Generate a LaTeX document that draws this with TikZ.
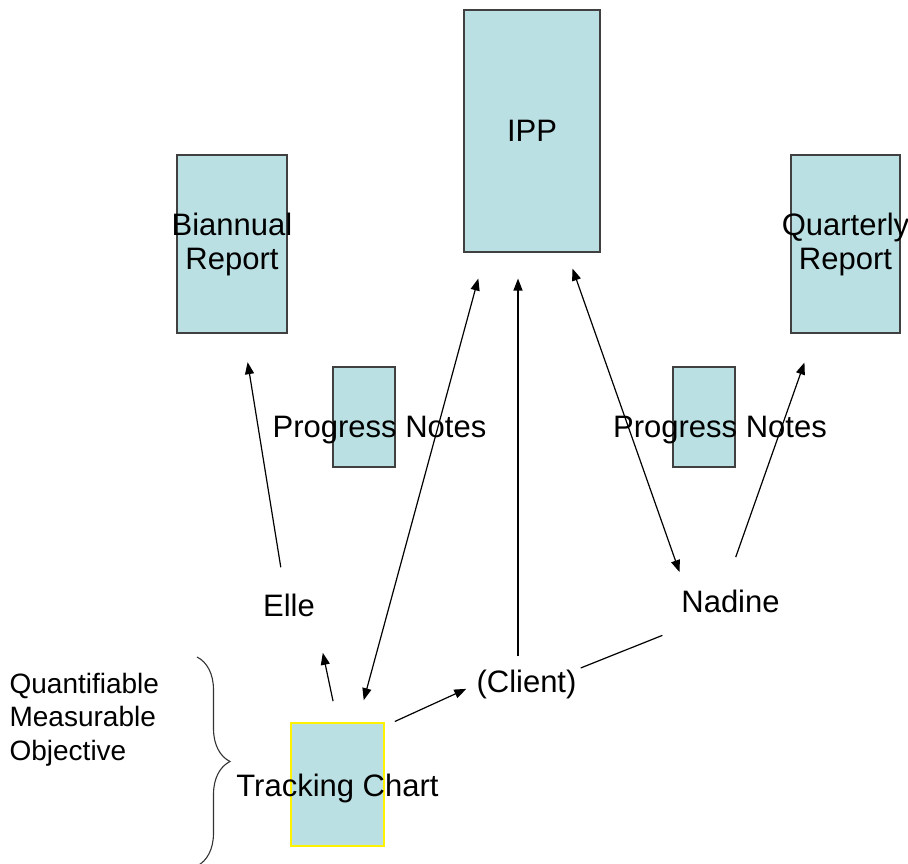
\documentclass[tikz,border=0pt]{standalone}
\usepackage{fontspec}
\setmainfont{Liberation Sans}
\usetikzlibrary{arrows.meta,decorations.pathreplacing}

\definecolor{boxfill}{RGB}{187,224,227}
\definecolor{boxline}{RGB}{64,64,64}

\tikzstyle{block} = [
        draw=boxline,
        fill=boxfill,
        line width=1.1pt,
        rectangle,
        inner sep=0pt
    ]
\tikzstyle{word} = [
        inner sep=0pt,
        anchor=base,
        font=\fontsize{31}{34}\selectfont
    ]

\begin{document}
\begin{tikzpicture}[x=1pt, y=1pt, line width=1.2pt,
        >={Triangle[length=12pt,width=9pt]}]
        \useasboundingbox (0,0) rectangle (908,864);
        % the boxes
        \node(ipp) [block, minimum width=136pt, minimum height=242pt,
            font=\fontsize{31}{34}\selectfont] at (532,733) {IPP};
        \node(bia) [block, minimum width=110pt, minimum height=178pt] at (232,620) {};
        \node(qr)  [block, minimum width=109pt, minimum height=178pt] at (845.5,620) {};
        \node(pnl) [block, minimum width=62pt, minimum height=100pt] at (364,447) {};
        \node(pnr) [block, minimum width=62pt, minimum height=100pt] at (704,447) {};
        \node(tc)  [block, draw=yellow, line width=1.6pt,
            minimum width=93pt, minimum height=123pt] at (337.5,79.5) {};
        % the texts
        \node(bialbl) [word, align=center, anchor=center] at (bia) {Biannual\\Report};
        \node(qrlbl)  [word, align=center, anchor=center] at (qr) {Quarterly\\Report};
        \node(pnllbl) [word] at (379.5,426) {Progress Notes};
        \node(pnrlbl) [word] at (720,426) {Progress Notes};
        \node(tclbl)  [word] at (337.5,67) {Tracking Chart};
        \node(elle)   [word] at (289,247) {Elle};
        \node(nadine) [word] at (730.5,251) {Nadine};
        \node(client) [word] at (526.5,171.5) {(Client)};
        \node(qmo) [word, font=\fontsize{28}{33.5}\selectfont, align=left,
            anchor=north west] at (9,191.4) {Quantifiable\\Measurable\\Objective};
        % brace in front of the chart
        \coordinate(bracetop) at (197,207);
        \coordinate(bracebot) at (197,-2);
        \draw[decorate, decoration={brace, amplitude=33pt}, line width=1.1pt,
            black!80] (bracetop) -- (bracebot);
        % the connectors
        \coordinate(cliup) at ([xshift=-8.5pt]client.north);
        \draw[->, shorten <=27pt, shorten >=29pt] (elle.108) -- (bia.277);
        \draw[->, shorten <=21.5pt, shorten >=35.7pt] (tc.north) -- (elle.south east);
        \draw[<->, shorten <=22.8pt, shorten >=26.9pt] (tc.72) -- (ipp.249);
        \draw[->, shorten <=13pt, shorten >=26pt] (cliup) -- (cliup |- ipp.south);
        \draw[<->, shorten <=17pt, shorten >=18.9pt] (ipp.286) -- (nadine.165);
        \draw[->, shorten <=34.8pt, shorten >=30.7pt] (nadine.118) -- (qr.251);
        \draw[->, shorten <=11pt, shorten >=10.6pt] (tc.51) -- (client.west);
        \draw[- , shorten <=4pt, shorten >=58pt] (client.north east) -- (nadine.220);
    \end{tikzpicture}
\end{document}
